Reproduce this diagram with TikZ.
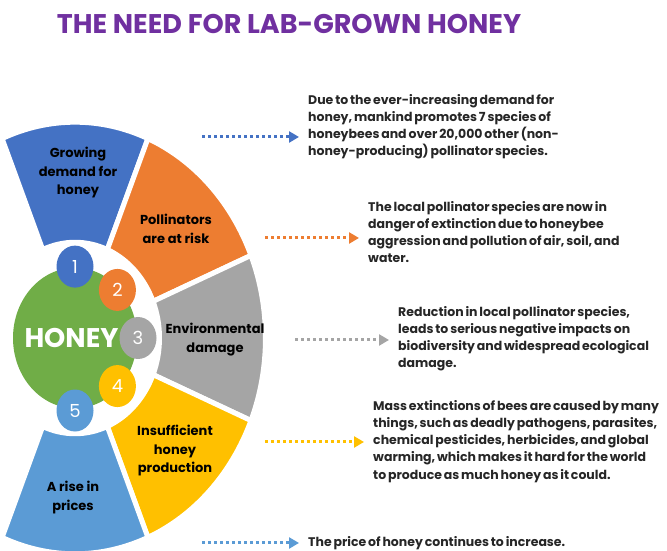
\documentclass[tikz,border=0pt]{standalone}
\usepackage{fontspec}
\setmainfont{Poppins}
\newfontfamily\notefont{Poppins}[WordSpace=0.7]
\usepackage{xcolor}
\usepackage{tikz}
\usetikzlibrary{arrows.meta}
\usetikzlibrary{shapes.geometric}

\definecolor{hblue}{HTML}{4472C4}
\definecolor{horange}{HTML}{ED7D31}
\definecolor{hgray}{HTML}{A5A5A5}
\definecolor{hyellow}{HTML}{FFC000}
\definecolor{hlblue}{HTML}{5B9BD5}
\definecolor{hgreen}{HTML}{70AD47}
\definecolor{hpurple}{HTML}{7030A0}
\definecolor{notegray}{HTML}{262626}

\tikzset{
	seg/.style={draw=white,line width=5pt},
	seglabel/.style={font=\fontsize{13}{18.5}\selectfont\bfseries,align=center,inner sep=0pt},
	numc/.style={ellipse,minimum width=37pt,minimum height=42pt,inner sep=0pt,text=white,font=\fontsize{18}{18}\selectfont},
	note/.style={font=\notefont\fontsize{12.5}{17.2}\selectfont\bfseries,align=left,anchor=north west,inner sep=0pt,text=notegray},
	dotarrow/.style={line width=3pt,dash pattern=on 3pt off 3pt,shorten >=9pt,-{Triangle[length=10pt,width=11pt]}}
}

\begin{document}
\begin{tikzpicture}[x=1pt,y=1pt]
	\useasboundingbox (0,0) rectangle (667,551);
	\node[font=\fontsize{27}{27}\selectfont\bfseries,text=hpurple] (title) at (289,527) {THE NEED FOR LAB-GROWN HONEY};

	\begin{scope}[shift={(75,213)},yscale=1.133]
	\filldraw[seg,fill=hblue] (67.5:84.5) arc[start angle=67.5,end angle=112.5,radius=84.5] -- (112.5:190.5) arc[start angle=112.5,end angle=67.5,radius=190.5] -- cycle;
	\filldraw[seg,fill=horange] (22.5:84.5) arc[start angle=22.5,end angle=67.5,radius=84.5] -- (67.5:190.5) arc[start angle=67.5,end angle=22.5,radius=190.5] -- cycle;
	\filldraw[seg,fill=hgray] (-22.5:84.5) arc[start angle=-22.5,end angle=22.5,radius=84.5] -- (22.5:190.5) arc[start angle=22.5,end angle=-22.5,radius=190.5] -- cycle;
	\filldraw[seg,fill=hyellow] (-67.5:84.5) arc[start angle=-67.5,end angle=-22.5,radius=84.5] -- (-22.5:190.5) arc[start angle=-22.5,end angle=-67.5,radius=190.5] -- cycle;
	\filldraw[seg,fill=hlblue] (-112.5:84.5) arc[start angle=-112.5,end angle=-67.5,radius=84.5] -- (-67.5:190.5) arc[start angle=-67.5,end angle=-112.5,radius=190.5] -- cycle;
	\fill[hgreen] (0,0) circle[radius=62];
	\node[numc,fill=hblue] (n1) at (90:63) {1};
	\node[numc,fill=horange] (n2) at (45:60) {2};
	\node[numc,fill=hgray] (n3) at (0:63) {3};
	\node[numc,fill=hyellow] (n4) at (-45:60) {4};
	\node[numc,fill=hlblue] (n5) at (-90:64) {5};
	\end{scope}

	\node[font=\fontsize{27}{27}\selectfont\bfseries,text=white] (honey) at (71.5,213) {HONEY};

	\node[seglabel] (g1) at (78,378) {Growing\\demand for\\honey};
	\node[seglabel] (g2) at (176,322) {Pollinators\\are at risk};
	\node[seglabel] (g3) at (215,211.5) {Environmental\\damage};
	\node[seglabel] (g4) at (175,100) {Insufficient\\honey\\production};
	\node[seglabel] (g5) at (73,53.5) {A rise in\\prices};

	\node[note] (t1) at (308,457) {Due to the ever-increasing demand for\\honey, mankind promotes 7 species of\\honeybees and over 20,000 other (non-\\honey-producing) pollinator species.};
	\node[note] (t2) at (368,350) {The local pollinator species are now in\\danger of extinction due to honeybee\\aggression and pollution of air, soil, and\\water.};
	\node[note] (t3) at (398,245) {Reduction in local pollinator species,\\leads to serious negative impacts on\\biodiversity and widespread ecological\\damage.};
	\node[note] (t4) at (373,151) {Mass extinctions of bees are caused by many\\things, such as deadly pathogens, parasites,\\chemical pesticides, herbicides, and global\\warming, which makes it hard for the world\\to produce as much honey as it could.};
	\node[note] (t5) at (308,15) {The price of honey continues to increase.};

	\coordinate (a1) at (202,414);
	\coordinate (a2) at (265,313);
	\coordinate (a3) at (295,211);
	\coordinate (a4) at (265,109);
	\coordinate (a5) at (202,8);
	\draw[dotarrow,hblue] (a1) -- (a1 -| t1.west);
	\draw[dotarrow,horange] (a2) -- (a2 -| t2.west);
	\draw[dotarrow,hgray] (a3) -- (a3 -| t3.west);
	\draw[dotarrow,hyellow] (a4) -- (a4 -| t4.west);
	\draw[dotarrow,hlblue] (a5) -- (a5 -| t5.west);
\end{tikzpicture}
\end{document}
